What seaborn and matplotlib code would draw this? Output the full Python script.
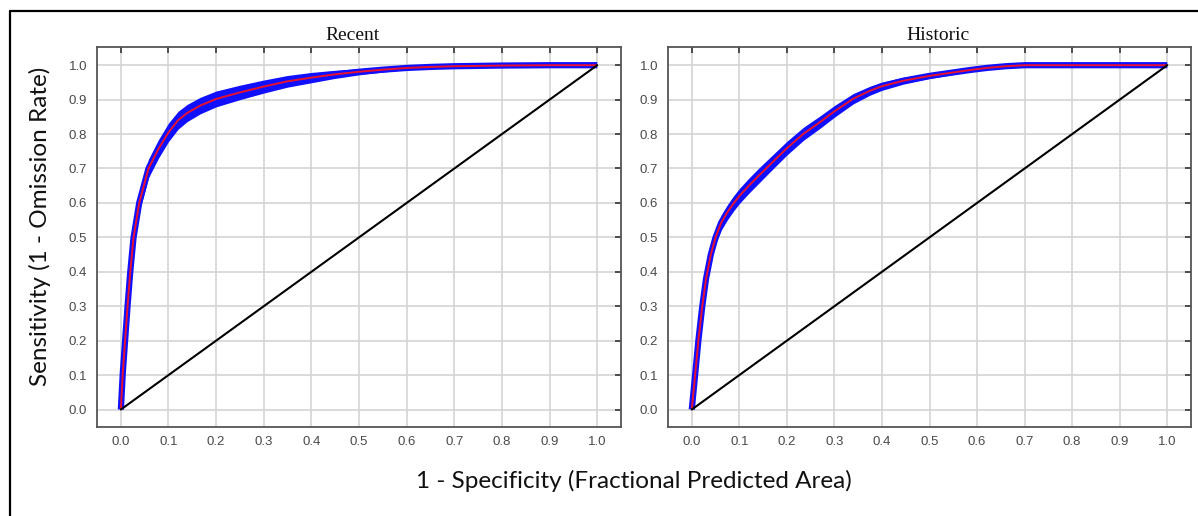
import numpy as np
import pandas as pd
import seaborn as sns
import matplotlib.pyplot as plt
from matplotlib.lines import Line2D

# ROC curve readings (1 - specificity vs sensitivity)
recent_fpr = [0.0, 0.004, 0.009, 0.014, 0.0195, 0.0265, 0.0385, 0.058, 0.079, 0.1, 0.12, 0.139,
              0.167, 0.2, 0.25, 0.3, 0.349, 0.4, 0.447, 0.5, 0.55, 0.6, 0.65, 0.7, 0.8, 0.9, 1.0]
recent_tpr = [0.0, 0.105, 0.202, 0.299, 0.396, 0.498, 0.6, 0.70, 0.757, 0.805, 0.84, 0.861,
              0.883, 0.902, 0.921, 0.938, 0.953, 0.964, 0.973, 0.981, 0.987, 0.992, 0.995, 0.997, 0.999, 1.0, 1.0]
recent_spread = [0.0, 0.014, 0.019, 0.022, 0.024, 0.025, 0.026, 0.027, 0.027, 0.027, 0.026, 0.025,
                 0.024, 0.023, 0.021, 0.019, 0.017, 0.015, 0.012, 0.009, 0.007, 0.005, 0.004, 0.003, 0.001, 0.0, 0.0]

historic_fpr = [0.0, 0.007, 0.014, 0.022, 0.03, 0.04, 0.05, 0.062, 0.075, 0.087, 0.1, 0.12,
                0.14, 0.165, 0.2, 0.235, 0.27, 0.3, 0.34, 0.375, 0.4, 0.445, 0.5, 0.55, 0.585,
                0.62, 0.66, 0.7, 0.8, 0.9, 1.0]
historic_tpr = [0.0, 0.1, 0.202, 0.299, 0.38, 0.45, 0.5, 0.543, 0.573, 0.597, 0.62, 0.65,
                0.678, 0.712, 0.759, 0.801, 0.835, 0.866, 0.903, 0.926, 0.939, 0.955, 0.969, 0.979,
                0.986, 0.992, 0.997, 1.0, 1.0, 1.0, 1.0]
historic_spread = [0.0, 0.012, 0.016, 0.018, 0.019, 0.02, 0.021, 0.022, 0.022, 0.022, 0.022, 0.022,
                   0.022, 0.021, 0.02, 0.019, 0.018, 0.017, 0.015, 0.013, 0.012, 0.01, 0.008, 0.006,
                   0.004, 0.002, 0.001, 0.0, 0.0, 0.0, 0.0]

panel_titles = ['Recent', 'Historic']
ticks = [0.0, 0.1, 0.2, 0.3, 0.4, 0.5, 0.6, 0.7, 0.8, 0.9, 1.0]

sns.set_style('white')
plt.rcParams['font.family'] = ['Liberation Sans', 'DejaVu Sans']

fig = plt.figure(figsize=(11.98, 5.16), dpi=100)
ax_left = fig.add_axes([0.081, 0.173, 0.4374, 0.736])
ax_right = fig.add_axes([0.5576, 0.173, 0.4366, 0.736])

panels = [
    (ax_left, recent_fpr, recent_tpr, recent_spread, 0.487),
    (ax_right, historic_fpr, historic_tpr, historic_spread, 0.516),
]

for (ax, fpr, tpr, spread, title_x), title in zip(panels, panel_titles):
    df = pd.DataFrame({'fpr': fpr, 'tpr': tpr, 'spread': spread})
    ax.grid(True, color='#d4d4d4', linewidth=1.2, zorder=0)
    ax.set_axisbelow(True)
    # bootstrap band (blue) and mean curve (red)
    ax.fill_between(df['fpr'], df['tpr'] - df['spread'], np.minimum(df['tpr'] + df['spread'], 1.003),
                    color='#1010ff', linewidth=0, zorder=2)
    sns.lineplot(data=df, x='fpr', y='tpr', ax=ax, color='#1010ff', linewidth=4.5,
                 zorder=3, estimator=None, sort=False, solid_capstyle='butt')
    sns.lineplot(data=df, x='fpr', y='tpr', ax=ax, color='#e8102e', linewidth=1.4,
                 zorder=4, estimator=None, sort=False, solid_capstyle='butt')
    # random classifier diagonal
    sns.lineplot(x=[0.0, 1.0], y=[0.0, 1.0], ax=ax, color='black', linewidth=1.5, zorder=5)

    ax.set_xlim(-0.05, 1.05)
    ax.set_ylim(-0.05, 1.053)
    ax.set_xticks(ticks)
    ax.set_yticks(ticks)
    ax.set_xticklabels([f'{t:.1f}' for t in ticks])
    ax.set_yticklabels([f'{t:.1f}' for t in ticks])
    ax.tick_params(direction='in', length=4, width=1.2, color='#333333', labelsize=9.5,
                   labelcolor='#4a4a4a', top=True, right=True, pad=7)
    for s in ax.spines.values():
        s.set_color('#555555')
        s.set_linewidth(1.3)
    ax.set_xlabel('')
    ax.set_ylabel('')
    ax.set_title(title, x=title_x, fontsize=14, family=['Liberation Serif', 'DejaVu Serif'],
                 color='#111111', pad=5)

fig.text(0.033, 0.562, 'Sensitivity (1 - Omission Rate)', rotation=90, ha='center', va='center',
         fontsize=17.5, family=['Lato', 'DejaVu Sans'], color='#111111')
fig.text(0.529, 0.068, '1 - Specificity (Fractional Predicted Area)', ha='center', va='center',
         fontsize=17.5, family=['Lato', 'DejaVu Sans'], color='#111111')

# outer frame (left and top edges visible)
fig.add_artist(Line2D([10 / 1198, 10 / 1198], [0, 1 - 11 / 516], transform=fig.transFigure,
                      color='black', linewidth=1.6))
fig.add_artist(Line2D([10 / 1198, 1], [1 - 11 / 516, 1 - 11 / 516], transform=fig.transFigure,
                      color='black', linewidth=1.6))

fig.savefig('out.png', dpi=100)
